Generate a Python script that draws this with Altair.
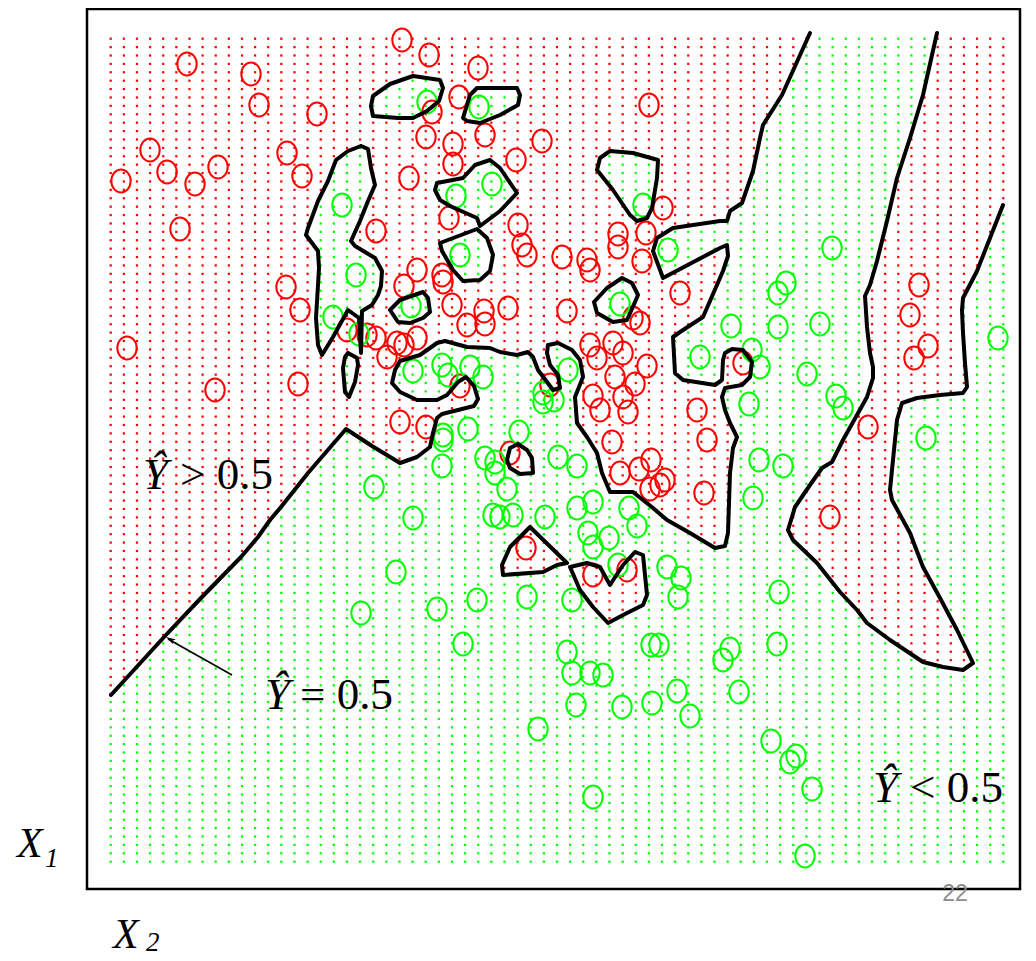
import altair as alt
import numpy as np
import pandas as pd

# ---------------- data (picture coordinates) ----------------
red_points = [
    (187, 64), (251, 74), (259, 105), (317, 114), (402, 40), (150, 150), (167, 172), (218, 167),
    (195, 184), (121, 181), (287, 153), (302, 176), (180, 229), (376, 231), (409, 178), (286, 287),
    (300, 310), (404, 286),
    (429, 55), (478, 68), (459, 97), (432, 112), (485, 135), (426, 137), (453, 144), (453, 164),
    (542, 141), (516, 160), (449, 218), (518, 225), (522, 245), (527, 255), (562, 257), (587, 260),
    (590, 270), (618, 234), (618, 247), (646, 233), (642, 261), (663, 208), (649, 105), (680, 293),
    (417, 270), (442, 275), (443, 282),
    (452, 305), (484, 311), (508, 308), (467, 325), (485, 324), (567, 311),
    (347, 330), (367, 335), (376, 338), (387, 357), (397, 343), (404, 345), (417, 338),
    (298, 384), (215, 390), (127, 348), (400, 422), (426, 427), (460, 386),
    (550, 385), (510, 453), (633, 318), (640, 323), (590, 345), (613, 343), (623, 353), (597, 358),
    (647, 366), (615, 377), (635, 384), (593, 396), (623, 397), (600, 410), (628, 412), (697, 410),
    (707, 440), (612, 442), (651, 460), (639, 469), (620, 473), (665, 480), (660, 485), (650, 489),
    (704, 493), (526, 548), (593, 575), (627, 570),
    (910, 315), (928, 346), (914, 358), (868, 427), (830, 517), (743, 363), (919, 285),
]

green_points = [
    (342, 205), (356, 275), (427, 102), (479, 107), (492, 184), (456, 196), (460, 255), (643, 205),
    (668, 250), (620, 304), (411, 306), (333, 317), (359, 334), (413, 371), (442, 365), (448, 375),
    (470, 367), (483, 377), (568, 370), (543, 393), (543, 402), (554, 400), (700, 357), (443, 435),
    (443, 440), (468, 429), (519, 432), (442, 466), (485, 458), (495, 462), (495, 473), (507, 489),
    (558, 457), (577, 466), (413, 518), (493, 515), (500, 517), (513, 515), (545, 517), (577, 508),
    (593, 502), (629, 508), (637, 526), (588, 533), (609, 538), (593, 547), (618, 565), (667, 567),
    (681, 578), (396, 572), (374, 487), (361, 613), (437, 609), (477, 600), (527, 597), (572, 600),
    (678, 597), (779, 592), (463, 644), (567, 652), (572, 673), (590, 673), (603, 675), (651, 645),
    (659, 645), (723, 660), (730, 649), (576, 705), (622, 707), (652, 703), (677, 691), (690, 716),
    (538, 729), (593, 797), (777, 644), (739, 692), (771, 741), (796, 756), (790, 762), (812, 789),
    (805, 856), (731, 326), (778, 327), (820, 324), (752, 350), (760, 367), (807, 374), (836, 396),
    (843, 408), (998, 338), (926, 438), (749, 404), (759, 460), (783, 466), (753, 498), (832, 248),
    (786, 283), (778, 293),
]

# decision boundary Y_hat = 0.5 : long curve (red side is upper-left)
boundary_main = [
    (111, 695), (165, 636), (201, 598), (241, 557), (258, 537), (270, 520), (281, 507), (308, 473),
    (346, 429), (372, 446), (400, 463), (417, 457), (430, 447), (433, 433), (437, 418), (442, 414),
    (462, 409), (474, 406), (478, 399), (474, 386), (466, 377), (458, 382), (447, 395), (437, 400),
    (417, 400), (400, 392), (392, 383), (395, 370), (400, 361), (420, 355), (430, 348), (437, 343),
    (445, 341), (467, 347), (490, 348), (500, 352), (517, 355), (528, 352), (533, 357), (538, 370),
    (547, 382), (553, 390), (560, 388), (558, 375), (550, 365), (547, 353), (548, 345), (558, 343),
    (572, 350), (580, 360), (583, 377), (575, 397), (577, 423), (587, 437), (597, 453), (602, 473),
    (610, 492), (633, 492), (643, 500), (653, 508), (667, 520), (690, 533), (715, 548), (725, 546),
    (728, 533), (730, 473), (733, 448), (737, 437), (730, 423), (725, 410), (722, 397), (725, 388),
    (742, 385), (750, 377), (752, 362), (743, 350), (732, 349), (725, 353), (723, 360), (722, 380),
    (715, 385), (683, 380), (675, 373), (673, 337), (680, 332), (703, 317), (710, 301), (723, 271),
    (728, 256), (727, 245), (720, 248), (663, 278), (653, 251), (657, 238), (673, 228), (720, 221),
    (727, 221), (730, 211), (742, 203), (753, 171), (760, 138), (763, 125), (782, 95), (810, 33),
]

# right-hand red strip (line from the top down and back up to the right edge)
boundary_right = [
    (937, 33), (932, 55), (923, 95), (910, 138), (897, 178), (887, 221), (877, 261), (870, 285),
    (865, 296), (867, 327), (870, 353), (873, 367), (873, 378), (867, 397), (857, 415), (843, 440),
    (832, 462), (822, 468), (810, 485), (795, 507), (788, 530), (793, 540), (817, 563), (840, 592),
    (857, 610), (867, 623), (890, 640), (923, 662), (943, 667), (963, 670), (973, 663), (957, 630),
    (940, 598), (923, 567), (910, 533), (892, 500), (890, 490), (893, 460), (897, 420), (902, 403),
    (917, 398), (940, 395), (963, 393), (967, 387), (965, 363), (963, 333), (962, 310), (963, 298),
    (977, 271), (990, 238), (1003, 205),
]

# closed islands of the opposite class
green_islands = [
    [(373, 96), (390, 84), (413, 76), (440, 80), (443, 88), (439, 101), (427, 111), (413, 118),
     (398, 118), (373, 116), (371, 106)],
    [(477, 88), (517, 88), (520, 95), (518, 105), (500, 115), (480, 123), (467, 121), (463, 118),
     (470, 95)],
    [(437, 183), (463, 178), (475, 165), (490, 160), (500, 168), (517, 193), (500, 211), (480, 226),
     (477, 218), (450, 206), (440, 200), (435, 190)],
    [(440, 243), (477, 229), (487, 238), (493, 255), (490, 271), (480, 280), (463, 281), (453, 270),
     (442, 251)],
    [(610, 151), (633, 153), (658, 160), (657, 178), (652, 208), (647, 218), (637, 221), (630, 215),
     (613, 190), (597, 170), (600, 158)],
    [(594, 302), (607, 288), (622, 278), (632, 283), (638, 295), (635, 302), (627, 320), (613, 322),
     (597, 313)],
    [(390, 310), (400, 300), (423, 292), (428, 298), (430, 312), (423, 318), (410, 323), (398, 322)],
    [(361, 146), (368, 149), (371, 168), (375, 185), (368, 201), (360, 221), (351, 241), (355, 246),
     (375, 258), (382, 271), (381, 286), (378, 295), (372, 305), (362, 311), (361, 353), (359, 318),
     (348, 310), (333, 337), (322, 355), (318, 345), (316, 318), (318, 285), (319, 268), (318, 251),
     (306, 235), (308, 228), (318, 201), (328, 181), (336, 160), (348, 151)],
    [(348, 353), (357, 358), (358, 365), (355, 382), (349, 397), (345, 392), (343, 368), (345, 357)],
]
red_islands = [
    [(507, 460), (510, 448), (518, 444), (527, 450), (532, 458), (533, 473), (520, 474), (510, 468)],
    [(530, 527), (567, 563), (557, 565), (543, 572), (503, 575), (502, 565), (510, 547)],
    [(570, 567), (587, 563), (600, 567), (610, 585), (623, 565), (635, 552), (643, 555), (647, 595),
     (643, 605), (627, 613), (608, 623), (593, 607), (580, 590)],
]

# prediction lattice (69 x 99 points)
grid_cols, grid_rows = 69, 99
grid_x_range = (110.7, 1003.3)
grid_y_range = (38.7, 861.7)

# annotations
labels_hat = [("Ŷ", 143, 489), ("Ŷ", 265, 709), ("Ŷ", 873, 802)]
labels_rest = [("> 0.5", 180, 489), ("= 0.5", 300, 709), ("< 0.5", 910, 802)]
axis_names = [("X", 17, 857), ("X", 113, 948)]
axis_subs = [("1", 45, 867), ("2", 146, 951)]
page_number = [("22", 955, 901)]
arrow_seg = [(232, 675), (168, 639)]
arrow_tip = (166, 637)

# ---------------- classify the lattice by the traced boundary ----------------
def inside(px, py, poly):
    xs = np.array([p[0] for p in poly], float)
    ys = np.array([p[1] for p in poly], float)
    xe, ye = np.roll(xs, -1), np.roll(ys, -1)
    res = np.zeros(px.shape, bool)
    for xa, ya, xb, yb in zip(xs, ys, xe, ye):
        if ya == yb:
            continue
        cond = (ya > py) != (yb > py)
        xint = xa + (py - ya) * (xb - xa) / (yb - ya)
        res ^= cond & (px < xint)
    return res

gx, gy = np.meshgrid(np.linspace(*grid_x_range, grid_cols), np.linspace(*grid_y_range, grid_rows))
gx, gy = gx.ravel(), gy.ravel()
main_poly = boundary_main + [(810, 20), (100, 20), (100, 695)]
right_poly = boundary_right + [(1015, 205), (1015, 20), (937, 20)]
is_red = inside(gx, gy, main_poly) | inside(gx, gy, right_poly)
for isl in green_islands + red_islands:
    is_red ^= inside(gx, gy, isl)

grid_df = pd.DataFrame({"x": gx, "y": gy, "cls": np.where(is_red, "red", "green")})
pts_df = pd.DataFrame(
    [(x, y, "red") for x, y in red_points] + [(x, y, "green") for x, y in green_points],
    columns=["x", "y", "cls"],
)

rows = []
curves = [boundary_main, boundary_right] + [c + [c[0]] for c in green_islands + red_islands]
for i, c in enumerate(curves):
    for j, (x, y) in enumerate(c):
        rows.append({"x": x, "y": y, "seg": i, "ord": j})
line_df = pd.DataFrame(rows)

# ---------------- chart ----------------
xs = alt.Scale(domain=[87, 1020], nice=False, zero=False)
ys = alt.Scale(domain=[9, 889], reverse=True, nice=False, zero=False)
X = alt.X("x:Q", scale=xs, axis=None)
Y = alt.Y("y:Q", scale=ys, axis=None)
col = alt.Color("cls:N", scale=alt.Scale(domain=["red", "green"], range=["#ff0000", "#00ff00"]), legend=None)

dots = alt.Chart(grid_df).mark_square(size=5, opacity=1).encode(x=X, y=Y, color=col)

ellipse = ("M0,-1C0.469,-1,0.85,-0.552,0.85,0C0.85,0.552,0.469,1,0,1"
           "C-0.469,1,-0.85,0.552,-0.85,0C-0.85,-0.552,-0.469,-1,0,-1Z")
circles = alt.Chart(pts_df).mark_point(shape=ellipse, filled=False, size=520, strokeWidth=2, opacity=1).encode(
    x=X, y=Y, color=col)

lines = alt.Chart(line_df).mark_line(color="black", strokeWidth=4, strokeJoin="round", strokeCap="round").encode(
    x=X, y=Y, detail="seg:N", order="ord:Q")

arrow_df = pd.DataFrame({"x": [arrow_seg[0][0]], "y": [arrow_seg[0][1]],
                         "x2": [arrow_seg[1][0]], "y2": [arrow_seg[1][1]]})
arrow = alt.Chart(arrow_df).mark_rule(color="black", strokeWidth=1.6).encode(
    x=X, y=Y, x2="x2:Q", y2="y2:Q")
head = alt.Chart(pd.DataFrame({"x": [arrow_tip[0]], "y": [arrow_tip[1]]})).mark_point(
    shape="M0,0L0.45,1.6L0,1.2L-0.45,1.6Z", size=150, filled=True, color="black", angle=300, opacity=1
).encode(x=X, y=Y)

def text_layer(rows_, **kw):
    df = pd.DataFrame(rows_, columns=["t", "x", "y"])
    return alt.Chart(df).mark_text(baseline="alphabetic", **kw).encode(x=X, y=Y, text="t:N")

hat_txt = text_layer(labels_hat, align="left", font="Liberation Serif", fontStyle="italic", fontSize=45, color="black")
rest_txt = text_layer(labels_rest, align="left", font="Liberation Serif", fontSize=45, color="black")
ax_txt = text_layer(axis_names, align="left", font="Liberation Serif", fontStyle="italic", fontSize=42, color="black")
sub_txt = text_layer(axis_subs, align="left", font="Liberation Serif", fontStyle="italic", fontSize=27, color="black")
page_txt = text_layer(page_number, align="center", font="Liberation Sans", fontSize=23, color="#8c8c8c")

chart = alt.layer(dots, circles, lines, arrow, head, hat_txt, rest_txt, ax_txt, sub_txt, page_txt).properties(
    width=933, height=880,
    padding={"left": 79, "top": 1, "right": 8, "bottom": 72},
    autosize=alt.AutoSizeParams(type="none"),
    background="white",
).configure_view(stroke="black", strokeWidth=2.5)

chart.save("out.html", embed_options={"renderer": "svg", "actions": False})
